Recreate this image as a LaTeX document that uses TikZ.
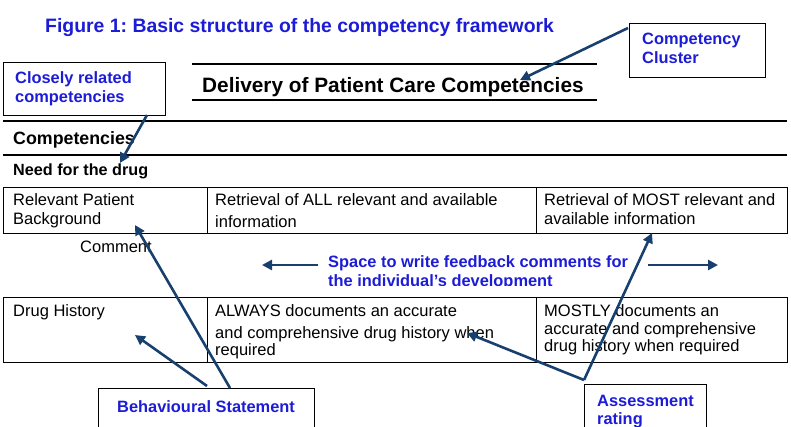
\documentclass[tikz,border=0pt]{standalone}
\usepackage{fontspec}
\setmainfont{Liberation Sans}
\usetikzlibrary{arrows.meta}
\definecolor{navy}{RGB}{24,64,110}
\definecolor{lblue}{RGB}{28,28,215}
\frenchspacing
\begin{document}
\begin{tikzpicture}[x=1pt,y=-1pt,
  arr/.style={navy, line width=2.6pt, -{Triangle[length=10pt,width=10pt]}},
  lbl/.style={font=\fontsize{16.4}{19}\selectfont\bfseries, text=lblue, inner sep=0, anchor=base west},
  txt/.style={font=\fontsize{16.5}{19}\selectfont, inner sep=0, anchor=base west},
  hdr/.style={font=\bfseries, inner sep=0, anchor=base west},
  box/.style={draw, line width=1.3pt, anchor=north west, inner sep=0},
  cell/.style={draw, line width=0.9pt, anchor=north west, inner sep=0}]
\useasboundingbox (0,0) rectangle (791,427);

% title
\node[hdr, text=lblue, font=\fontsize{19.4}{22}\selectfont\bfseries] (title) at (45,33) {Figure 1: Basic structure of the competency framework};

% competency cluster box
\node[box, minimum width=136pt, minimum height=54pt] (cc) at (629,23) {};
\node[lbl] (cc1) at (642,45) {Competency};
\node[lbl] (cc2) at (642,64) {Cluster};

% closely related box
\node[box, minimum width=162pt, minimum height=53pt] (cr) at (3,62) {};
\node[lbl] (cr1) at (15,84) {Closely related};
\node[lbl] (cr2) at (15,103) {competencies};

% delivery header
\coordinate (dl1) at (192,64);
\coordinate (dr1) at (597,64);
\coordinate (dl2) at (192,100);
\coordinate (dr2) at (597,100);
\draw[line width=1.4pt] (dl1) -- (dr1);
\draw[line width=1.4pt] (dl2) -- (dr2);
\node[hdr, font=\fontsize{20.8}{24}\selectfont\bfseries] (deliv) at (202,93) {Delivery of Patient Care Competencies};

% competencies band
\coordinate (t1) at (3,121);
\coordinate (t2) at (787,121);
\coordinate (m1) at (3,155);
\coordinate (m2) at (787,155);
\draw[line width=2.4pt] (t1) -- (t2);
\draw[line width=1.6pt] (m1) -- (m2);
\node[hdr, font=\fontsize{17.8}{20}\selectfont\bfseries] (comp) at (13,145) {Competencies};
\node[hdr, font=\fontsize{16.2}{19}\selectfont\bfseries] (need) at (13,176) {Need for the drug};

% row 1
\node[cell, minimum width=329pt, minimum height=46pt] (r1c2) at (207,187) {};
\node[cell, minimum width=251pt, minimum height=46pt] (r1c3) at (536,187) {};
\node[box, minimum width=204pt, minimum height=46pt] (r1c1) at (3,187) {};
\node[txt] (a1) at (13,206) {Relevant Patient};
\node[txt] (a2) at (13,225) {Background};
\node[txt] (b1) at (215,206) {Retrieval of ALL relevant and available};
\node[txt] (b2) at (215,228) {information};
\node[txt] (c1) at (544,206) {Retrieval of MOST relevant and};
\node[txt] (c2) at (544,225) {available information};

\node[txt] (cmt) at (80,252) {Comment};

% feedback space
\begin{scope}
\clip (320,250) rectangle (645,285.5);
\node[lbl] (sp1) at (328,268) {Space to write feedback comments for};
\node[lbl] (sp2) at (328,287) {the individual’s development};
\end{scope}
\coordinate (la) at (318,265);
\coordinate (lt) at (262,265);
\coordinate (ra) at (648,265);
\coordinate (rt) at (718,265);
\draw[arr] (la) -- (lt);
\draw[arr] (ra) -- (rt);

% row 2
\node[cell, minimum width=329pt, minimum height=65pt] (r2c2) at (207,297) {};
\node[cell, minimum width=251pt, minimum height=65pt] (r2c3) at (536,297) {};
\node[box, minimum width=204pt, minimum height=65pt] (r2c1) at (3,297) {};
\node[txt] (d1) at (13,316) {Drug History};
\node[txt] (e1) at (215,316) {ALWAYS documents an accurate};
\node[txt] (e2) at (215,338) {and comprehensive drug history when};
\node[txt] (e3) at (215,355) {required};
\node[txt] (f1) at (544,316) {MOSTLY documents an};
\node[txt] (f2) at (544,334) {accurate and comprehensive};
\node[txt] (f3) at (544,351) {drug history when required};

% behavioural statement box
\node[box, minimum width=216pt, minimum height=45pt] (bs) at (98,388) {};
\node[lbl] (bst) at (117,412) {Behavioural Statement};

% assessment rating box
\node[box, minimum width=122pt, minimum height=50pt] (ar) at (584,384) {};
\node[lbl] (ar1) at (597,406) {Assessment};
\node[lbl] (ar2) at (597,424) {rating};

% arrows
\coordinate (ccs) at (628,28);
\coordinate (cct) at (520,80);
\coordinate (crs) at (147,115);
\coordinate (crt) at (120,163);
\coordinate (bs1) at (230,388);
\coordinate (bt1) at (135,225);
\coordinate (bs2) at (207,386);
\coordinate (bt2) at (135,335);
\coordinate (as) at (584,380);
\coordinate (at1) at (467,333);
\coordinate (at2) at (652,233);
\draw[arr] (ccs) -- (cct);
\draw[arr] (crs) -- (crt);
\draw[arr] (bs1) -- (bt1);
\draw[arr] (bs2) -- (bt2);
\draw[arr] (as) -- (at1);
\draw[arr] (as) -- (at2);
\end{tikzpicture}
\end{document}
